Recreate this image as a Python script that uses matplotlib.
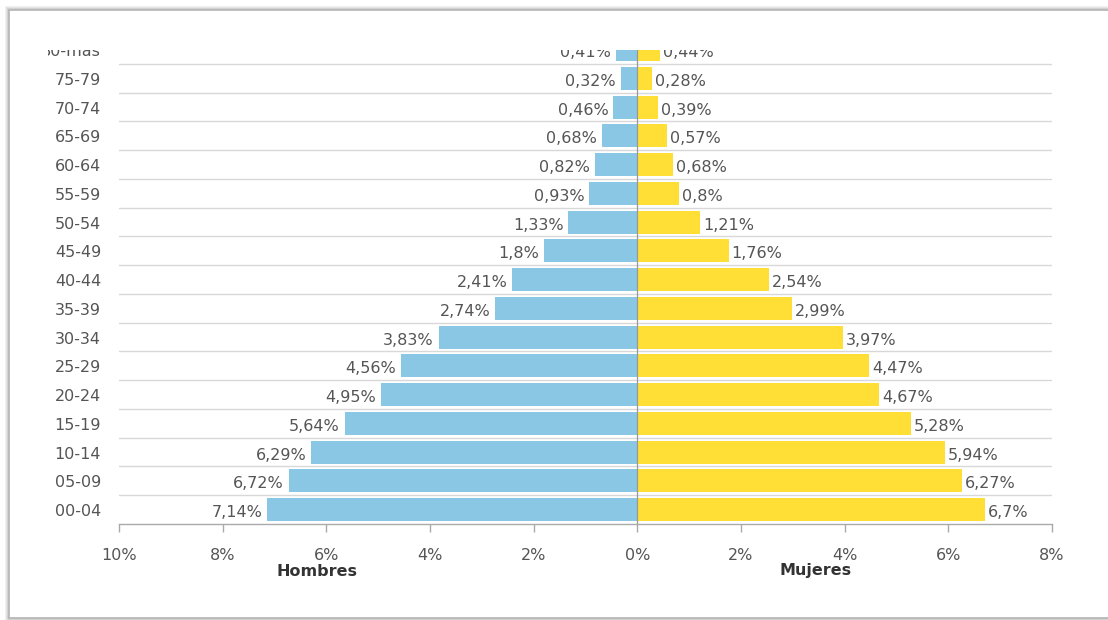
import matplotlib
matplotlib.use("Agg")
import matplotlib.pyplot as plt
from matplotlib.patches import Rectangle
from matplotlib.transforms import Bbox, TransformedBbox, blended_transform_factory, offset_copy

categories = ["00-04", "05-09", "10-14", "15-19", "20-24", "25-29", "30-34", "35-39",
              "40-44", "45-49", "50-54", "55-59", "60-64", "65-69", "70-74", "75-79", "80-mas"]
hombres = [7.14, 6.72, 6.29, 5.64, 4.95, 4.56, 3.83, 2.74, 2.41, 1.8, 1.33, 0.93, 0.82, 0.68, 0.46, 0.32, 0.41]
mujeres = [6.7, 6.27, 5.94, 5.28, 4.67, 4.47, 3.97, 2.99, 2.54, 1.76, 1.21, 0.8, 0.68, 0.57, 0.39, 0.28, 0.44]
xticks = [-10, -8, -6, -4, -2, 0, 2, 4, 6, 8]
xtick_labels = ["10%", "8%", "6%", "4%", "2%", "0%", "2%", "4%", "6%", "8%"]

W, H = 1108, 620
FS = 11.5
fig = plt.figure(figsize=(W / 100, H / 100), dpi=100)
fig.patch.set_facecolor("white")

# outer frame (panel border with soft shadow)
for off, col in [(3, "#eeeeee"), (2, "#e2e2e2"), (1, "#cfcfcf")]:
    fig.patches.append(Rectangle(((9 - off) / W, 1 - (618 + off) / H), (1200) / W, (608 + 2 * off) / H,
                                 transform=fig.transFigure, fill=False, edgecolor=col, lw=1.2, zorder=-3))
fig.patches.append(Rectangle((9 / W, 1 - 618 / H), 1200 / W, 608 / H, transform=fig.transFigure,
                             fill=True, facecolor="white", edgecolor="#b4b4b4", lw=1.2, zorder=-2))

left, right, bottom, top = 119 / W, 1052 / W, 1 - 524 / H, 1 - 49.5 / H
ax = fig.add_axes([left, bottom, right - left, top - bottom])
ax.set_facecolor("none")

ypos = list(range(len(categories)))
blue = "#89C7E5"
yellow = "#FFDE35"
ax.barh(ypos, [-v for v in hombres], height=0.8, color=blue, edgecolor="none", zorder=2)
ax.barh(ypos, mujeres, height=0.8, color=yellow, edgecolor="none", zorder=2)

ax.set_xlim(-10, 8)
ax.set_ylim(-0.5, 16.0)

# grid lines between rows
for k in range(len(categories)):
    ax.axhline(k + 0.5, color="#d8d8d8", lw=1.0, zorder=1)
ax.axvline(0, color="#999999", lw=0.9, zorder=3)

for s in ["top", "right", "left"]:
    ax.spines[s].set_visible(False)
ax.spines["bottom"].set_color("#aaaaaa")
ax.spines["bottom"].set_linewidth(1.0)

ax.set_xticks(xticks)
ax.set_xticklabels(xtick_labels)
ax.tick_params(axis="x", length=6, width=1.0, color="#aaaaaa", pad=11, labelsize=FS, labelcolor="#555555")
ax.set_yticks([])

clipbox = TransformedBbox(Bbox([[48 / W, 0], [1, top]]), fig.transFigure)

# category labels
ytrans = blended_transform_factory(ax.transAxes, ax.transData)
for y, c in zip(ypos, categories):
    t = ax.text(-18 / (W * (right - left)), y, c, transform=offset_copy(ytrans, fig=fig, x=0, y=-2, units="dots"),
                ha="right", va="center", fontsize=FS, color="#555555", clip_on=True)
    t.set_clip_box(clipbox)

def fmt(v):
    return str(v).replace(".", ",") + "%"

lt = offset_copy(ax.transData, fig=fig, x=-5, y=-3, units="dots")
rt = offset_copy(ax.transData, fig=fig, x=3, y=-3, units="dots")
for y, h, m in zip(ypos, hombres, mujeres):
    t1 = ax.text(-h, y, fmt(h), transform=lt, ha="right", va="center", fontsize=FS, color="#555555", clip_on=True)
    t2 = ax.text(m, y, fmt(m), transform=rt, ha="left", va="center", fontsize=FS, color="#555555", clip_on=True)
    t1.set_clip_box(clipbox)
    t2.set_clip_box(clipbox)

fig.text(317 / W, 1 - 571 / H, "Hombres", ha="center", va="center", fontsize=FS, fontweight="bold", color="#333333")
fig.text(816 / W, 1 - 571 / H, "Mujeres", ha="center", va="center", fontsize=FS, fontweight="bold", color="#333333")

fig.savefig("out.png", dpi=100, facecolor="white")
